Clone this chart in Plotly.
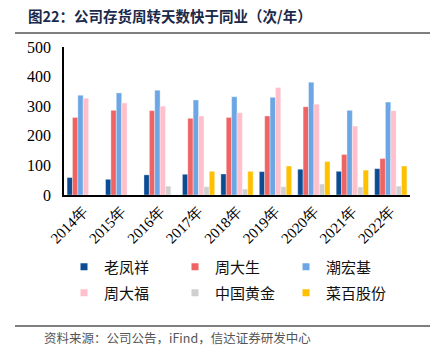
import plotly.graph_objects as go

years = ["2014年", "2015年", "2016年", "2017年", "2018年", "2019年", "2020年", "2021年", "2022年"]
lfx = [59, 53, 68, 70, 71, 79, 87, 80, 89]          # 老凤祥
zds = [262, 286, 285, 259, 262, 267, 298, 137, 123]  # 周大生
chj = [337, 345, 354, 321, 332, 330, 381, 286, 314]  # 潮宏基
zdf = [327, 311, 300, 267, 278, 363, 307, 233, 285]  # 周大福
zghj = [None, None, 30, 28, 20, 28, 37, 27, 30]      # 中国黄金
cbgf = [None, None, None, 80, 80, 98, 113, 84, 98]   # 菜百股份

names = ["老凤祥", "周大生", "潮宏基", "周大福", "中国黄金", "菜百股份"]
series = [lfx, zds, chj, zdf, zghj, cbgf]
colors = ["#0B4C94", "#EE6363", "#6CA6E4", "#FFC0CB", "#CFCFCF", "#FFC000"]

W, H = 440, 355
L, R, T, B = 64, 30, 47, 160
pw, ph = W - L - R, H - T - B

def px(x):
    return (x - L) / pw

def py(y):
    return (H - B - y) / ph

fig = go.Figure()
for n, s, c in zip(names, series, colors):
    fig.add_trace(go.Bar(x=years, y=s, name=n, marker=dict(color=c, line=dict(color="rgba(255,255,255,0.6)", width=0.6)),
                         showlegend=False))
for i, (n, c) in enumerate(zip(names, colors)):
    fig.add_trace(go.Scatter(x=[None], y=[None], mode="markers", name=n,
                             marker=dict(symbol="square", size=7, color=c),
                             legend="legend" if i < 3 else "legend2"))

legend_common = dict(orientation="h", xanchor="left", yanchor="middle", entrywidth=66,
                     font=dict(family="Noto Sans CJK SC", size=15, color="#111"),
                     bgcolor="rgba(0,0,0,0)", itemwidth=30, traceorder="normal")

serif = "Liberation Serif, Times New Roman, serif"
fig.update_layout(
    width=W, height=H,
    margin=dict(l=L, r=R, t=T, b=B),
    plot_bgcolor="white", paper_bgcolor="white",
    barmode="group", bargap=0.16, bargroupgap=0,
    legend=dict(x=px(64), y=py(267), **legend_common),
    legend2=dict(x=px(64), y=py(293), **legend_common),
    xaxis=dict(showline=True, linecolor="black", linewidth=2, ticks="", tickangle=-45,
               tickfont=dict(family=serif, size=15, color="black"),
               showgrid=False),
    yaxis=dict(range=[0, 500], tickvals=[0, 100, 200, 300, 400, 500], showline=True, linecolor="black",
               linewidth=1.5, ticks="", showgrid=False, zeroline=False, ticklabelstandoff=8,
               tickfont=dict(family=serif, size=16, color="black")),
    font=dict(family="Noto Sans CJK SC"),
)

fig.add_annotation(x=px(26), y=py(15), xref="paper", yref="paper", xanchor="left", yanchor="middle",
                   text="<b>图22：公司存货周转天数快于同业（次/年）</b>", showarrow=False,
                   font=dict(family="Noto Sans CJK SC", size=14.5, color="#1B2A4A"))
fig.add_annotation(x=px(42), y=py(337), xref="paper", yref="paper", xanchor="left", yanchor="middle",
                   text="资料来源：公司公告，iFind，信达证券研发中心", showarrow=False,
                   font=dict(family="Noto Sans CJK SC", size=12.5, color="#555"))
for yy in (33, 326):
    fig.add_shape(type="line", xref="paper", yref="paper", x0=px(15), x1=px(430), y0=py(yy), y1=py(yy),
                  line=dict(color="#555", width=1.5))

fig.write_html("out.html", config={"displayModeBar": False},
               post_script="document.body.style.margin='0';document.body.style.overflow='hidden';")
